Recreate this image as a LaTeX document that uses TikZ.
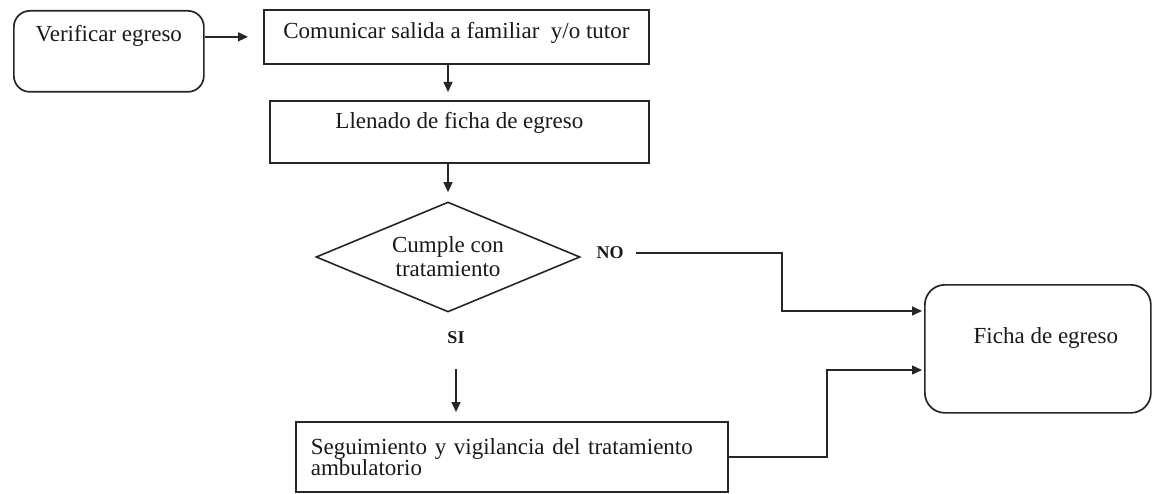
\documentclass[tikz,border=0pt]{standalone}
\usepackage{fontspec}
\setmainfont{Liberation Serif}
\usetikzlibrary{shapes.geometric,arrows.meta,calc}
\begin{document}
\begin{tikzpicture}[x=1pt,y=-1pt,
  every node/.style={font=\fontsize{23}{22}\selectfont, text=black!90},
  box/.style={draw=black!85, line width=1.7pt, inner sep=0pt, anchor=north west},
  rbox/.style={box, rounded corners=16pt},
  dec/.style={draw=black!85, line width=1.6pt, diamond, aspect=2.4, inner sep=0pt,
    minimum width=264pt, minimum height=110pt, align=center},
  lab/.style={font=\fontsize{18}{20}\selectfont\bfseries, inner sep=0pt},
  arr/.style={draw=black!85, line width=1.4pt, -{Triangle[length=10pt,width=9pt]}}
]
\useasboundingbox (0,0) rectangle (1153,494);

\node[rbox, minimum width=190pt, text height=31pt, text depth=50pt] (ver) at (13,10) {Verificar egreso};
\node[box, minimum width=385pt, text height=29pt, text depth=25pt] (com) at (263,9) {Comunicar salida a familiar\ \ y/o tutor};
\node[box, minimum width=379pt, text height=28pt, text depth=34pt] (lle) at (269,100) {Llenado de ficha de egreso};
\node[dec] (dia) at (448,257) {Cumple con\\[2pt]tratamiento};
\node[lab] (no) at (610,253) {NO};
\node[lab] (si) at (456,338) {SI};
\node[box, rounded corners=20pt, minimum width=226pt, text height=59pt, text depth=69pt, inner xsep=0pt] (fic) at (924,284) {\hspace*{16pt}Ficha de egreso};
\node[box, minimum width=432pt, minimum height=70pt, inner xsep=15pt, text width=402pt, align=left,
  font=\fontsize{23}{21}\selectfont] (seg) at (295,421) {Seguimiento y vigilancia del tratamiento\\ambulatorio};

\coordinate (bendA) at (782,311);
\coordinate (bendB) at (827,370);

\draw[arr, shorten >=15pt] (ver.east |- com.west) -- (com.west);
\draw[arr, shorten >=8pt] (com.south -| dia.north) -- (lle.north -| dia.north);
\draw[arr, shorten >=9pt] (lle.south -| dia.north) -- (dia.north);
\draw[arr, shorten <=12pt, shorten >=2pt] (no.east) -| (bendA) -- (bendA -| fic.west);
\draw[arr, shorten >=2pt] (seg.east) -| (bendB) -- (bendB -| fic.west);
\draw[arr, shorten <=25pt, shorten >=9pt] (si.south) -- (seg.north -| si.south);
\end{tikzpicture}
\end{document}
